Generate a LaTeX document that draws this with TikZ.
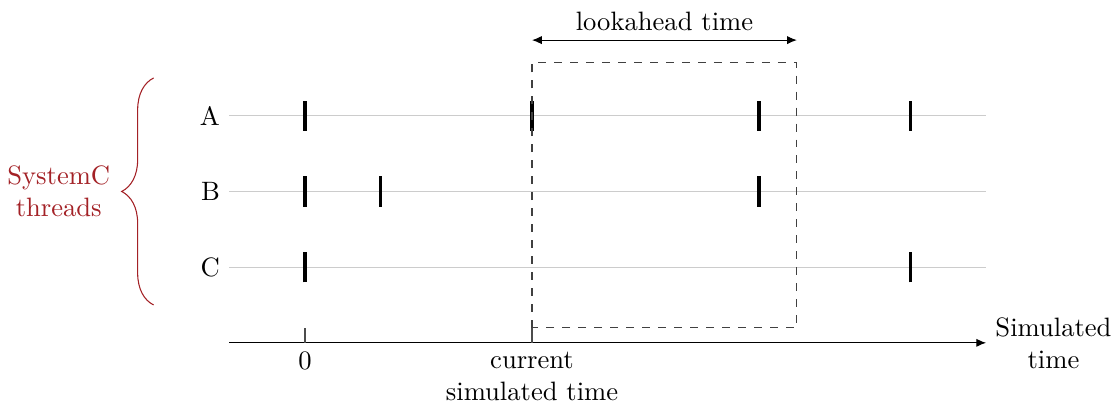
\documentclass[tikz,border=0pt]{standalone}
\usepackage{tikz}
\usetikzlibrary{arrows.meta,decorations.pathreplacing}
\usepackage{xcolor}
\definecolor{threadred}{rgb}{0.64,0.13,0.15}

\begin{document}
\begin{tikzpicture}[>={Latex[length=1.3mm,width=1.1mm]}]
\useasboundingbox (-4.03,-0.83) rectangle (10.73,4.53);
% threads
\foreach \y/\name in {3/A,2/B,1/C}{
  \coordinate (s\name) at (-1,\y);
  \coordinate (e\name) at (9,\y);
  \draw[gray!40] (s\name) -- (e\name);
  \node[left] (lbl\name) at (s\name) {\name};
}
% events
\foreach \x/\y in {0/3,3/3,6/3,8/3,0/2,1/2,6/2,0/1,8/1}
  \draw[very thick] (\x,\y-0.2) -- (\x,\y+0.2);
% time axis
\coordinate (tstart) at (-1,0);
\coordinate (tend) at (9,0);
\draw[->] (tstart) -- (tend) node[right,align=center] (simlbl) {Simulated\\time};
\draw[black!70] (0,0) -- (0,0.2);
\node[below] (zero) at (0,0) {0};
\draw[black!70] (3,0) -- (3,0.2);
\node[below,align=center] (now) at (3,0) {current\\simulated time};
% lookahead window
\draw[dashed,black!75] (3,0.2) rectangle (6.5,3.7);
\coordinate (la) at (3,4);
\coordinate (lb) at (6.5,4);
\draw[<->] (la) -- node[above] (lalbl) {lookahead time} (lb);
% brace
\draw[threadred,decorate,decoration={brace,amplitude=12pt}] (-2,0.5) -- (-2,3.5);
\node[threadred,left,align=center] (threads) at (-2.45,2) {SystemC\\threads};
\end{tikzpicture}
\end{document}
